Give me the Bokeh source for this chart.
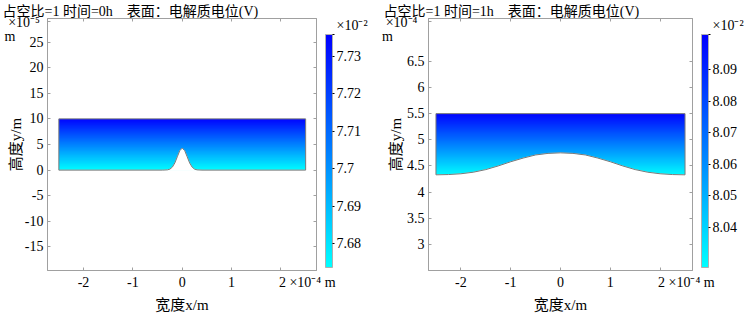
import numpy as np
from bokeh.plotting import figure
from bokeh.layouts import row
from bokeh.models import (LinearAxis, FixedTicker, ColorBar, LinearColorMapper,
                          Range1d, Title, AllLabels)
from bokeh.embed import file_html
from bokeh.resources import INLINE

# ---------------- data ----------------
titles = ["占空比=1 时间=0h\u00a0\u00a0\u00a0\u00a0表面：电解质电位(V)",
          "占空比=1 时间=1h\u00a0\u00a0\u00a0\u00a0表面：电解质电位(V)"]
x_ticks = [-2, -1, 0, 1, 2]
x_labels = ["-2", "-1", "0", "1", "2"]
x_unit = "×10⁻⁴ m"
cb_unit = "×10⁻²"

# left panel: x in 1e-4 m, y in 1e-5 m, potential in 1e-2 V
left_x_range = [-2.73, 2.72]
left_y_range = [-19.6, 29.6]
left_y_ticks = [-15, -10, -5, 0, 5, 10, 15, 20, 25]
left_y_labels = ["-15", "-10", "-5", "0", "5", "10", "15", "20", "25"]
left_y_unit = "×10⁻⁵"
left_surface_x = [-2.5, -0.4, -0.3, -0.25, -0.2, -0.15, -0.1, -0.05, 0.0,
                  0.05, 0.1, 0.15, 0.2, 0.25, 0.3, 0.4, 2.5]
left_surface_y = [0.0, 0.0, 0.05, 0.19, 0.59, 1.4, 2.6, 3.8, 4.3,
                  3.8, 2.6, 1.4, 0.59, 0.19, 0.05, 0.0, 0.0]
left_top = 10.0
left_pot_y = [0.0, 10.0]
left_pot_v = [7.674, 7.735]
left_cb_range = [7.6736, 7.7359]
left_cb_ticks = [7.68, 7.69, 7.70, 7.71, 7.72, 7.73]
left_cb_labels = ["7.68", "7.69", "7.7", "7.71", "7.72", "7.73"]

# right panel: x in 1e-4 m, y in 1e-4 m, potential in 1e-2 V
right_x_range = [-2.65, 2.65]
right_y_range = [2.5, 7.32]
right_y_ticks = [3, 3.5, 4, 4.5, 5, 5.5, 6, 6.5]
right_y_labels = ["3", "3.5", "4", "4.5", "5", "5.5", "6", "6.5"]
right_y_unit = "×10⁻⁴"
right_surface_x = [-2.5, -2.25, -2.0, -1.75, -1.5, -1.25, -1.0, -0.75, -0.5, -0.25, 0.0,
                   0.25, 0.5, 0.75, 1.0, 1.25, 1.5, 1.75, 2.0, 2.25, 2.5]
right_surface_y = [4.33, 4.335, 4.35, 4.38, 4.43, 4.50, 4.58, 4.65, 4.71, 4.74, 4.75,
                   4.74, 4.71, 4.65, 4.58, 4.50, 4.43, 4.38, 4.35, 4.335, 4.33]
right_top = 5.5
right_pot_y = [4.33, 5.5]
right_pot_v = [8.029, 8.100]
right_cb_range = [8.0273, 8.1011]
right_cb_ticks = [8.04, 8.05, 8.06, 8.07, 8.08, 8.09]
right_cb_labels = ["8.04", "8.05", "8.06", "8.07", "8.08", "8.09"]

# ---------------- style ----------------
FONT = "'Liberation Serif', 'Noto Sans CJK SC', serif"
GRAY = "#a0a0a0"
NB = "\u00a0"
palette = ["#%02x%02x%02x" % (0, int(round(255 * (1 - i / 255))), 255) for i in range(256)]


def base_axis(ax):
    ax.major_tick_in = 3
    ax.major_tick_out = 0
    ax.minor_tick_line_color = None
    ax.axis_line_color = GRAY
    ax.major_tick_line_color = GRAY
    ax.major_label_text_font = FONT
    ax.major_label_text_color = "black"
    ax.major_label_text_font_size = "14px"
    ax.axis_label_text_font = FONT
    ax.axis_label_text_font_style = "normal"
    ax.axis_label_text_font_size = "15px"
    ax.axis_label_text_color = "black"


def hidden_axis(ax, ticks):
    base_axis(ax)
    ax.ticker = FixedTicker(ticks=ticks)
    ax.major_label_overrides = {t: "" for t in ticks}
    ax.major_label_text_color = None
    ax.major_label_standoff = 0


def make_panel(width, border_left, xr, yr, y_ticks, y_labels, y_unit, unit_pad,
               m_pad, label_standoff, sx, sy, top, pot_y, pot_v, cb_range,
               cb_ticks, cb_labels, title, title_dx):
    p = figure(width=width, height=315, x_range=Range1d(*xr), y_range=Range1d(*yr),
               output_backend="svg", toolbar_location=None,
               min_border_left=border_left, min_border_top=18, min_border_right=0,
               min_border_bottom=44, x_axis_label="宽度x/m", y_axis_label="高度y/m")
    p.grid.visible = False
    p.outline_line_color = GRAY
    p.background_fill_color = "white"
    p.border_fill_color = "white"

    # bottom axis, with the unit text following the last tick label
    xa = p.xaxis[0]
    base_axis(xa)
    xa.ticker = FixedTicker(ticks=x_ticks)
    xover = {t: l for t, l in zip(x_ticks, x_labels)}
    xover[x_ticks[-1]] = NB * 15 + x_labels[-1] + NB + x_unit
    xa.major_label_overrides = xover
    xa.major_label_standoff = 4
    xa.axis_label_standoff = 4

    # left axis, with the unit text placed at the top edge of the frame
    ya = p.yaxis[0]
    base_axis(ya)
    unit_tick = yr[1] - 0.01 * (yr[1] - yr[0])
    ya.ticker = FixedTicker(ticks=list(y_ticks) + [unit_tick])
    yover = {t: l for t, l in zip(y_ticks, y_labels)}
    yover[unit_tick] = NB + "\n" + y_unit + NB * unit_pad + "\n" + "m" + NB * m_pad
    ya.major_label_overrides = yover
    ya.major_label_text_line_height = 0.95
    ya.major_label_standoff = 4
    ya.axis_label_standoff = label_standoff

    top_ax = LinearAxis()
    hidden_axis(top_ax, x_ticks)
    p.add_layout(top_ax, "above")
    right_ax = LinearAxis()
    hidden_axis(right_ax, y_ticks)
    p.add_layout(right_ax, "right")

    mapper = LinearColorMapper(palette=palette, low=cb_range[0], high=cb_range[1])
    x0, x1 = min(sx), max(sx)
    y0 = min(sy)
    rows = np.linspace(y0, top, 240)
    vals = np.interp(rows, pot_y, pot_v)
    img = np.repeat(vals[:, None], 2, axis=1)
    p.image(image=[img], x=x0, y=y0, dw=x1 - x0, dh=top - y0, color_mapper=mapper)
    # electrode region under the surface curve stays blank
    pad = 0.01 * (top - y0)
    p.patch(list(sx) + [x1, x0], list(sy) + [y0 - pad, y0 - pad],
            fill_color="white", line_color="white", line_width=0.5)
    # electrolyte domain outline
    p.patch(list(sx) + [x1, x0], list(sy) + [top, top], fill_alpha=0,
            line_color="#7a7a7a", line_width=1)

    # colour bar; its multiplier sits at the top end of the scale
    unit_val = cb_range[1] - 1e-6
    cb_over = {t: l for t, l in zip(cb_ticks, cb_labels)}
    cb_over[unit_val] = cb_unit + "\n" + NB
    cb = ColorBar(color_mapper=mapper, ticker=FixedTicker(ticks=list(cb_ticks) + [unit_val]),
                  major_label_overrides=cb_over, major_label_policy=AllLabels(),
                  width=7, height=233, padding=0, margin=0, location=(9, 3),
                  label_standoff=2, major_label_text_font=FONT,
                  major_label_text_font_size="14px", major_label_text_color="black",
                  major_tick_in=0, major_tick_out=2, major_tick_line_color="black",
                  minor_tick_line_color=None, bar_line_color="#b0b0b0",
                  background_fill_alpha=0, border_line_color=None)
    p.add_layout(cb, "right")

    # panel title
    p.add_layout(Title(text=title, align="left", offset=title_dx - border_left,
                       standoff=0, text_font=FONT, text_font_size="14px",
                       text_font_style="normal", text_color="black",
                       vertical_align="bottom"), "above")
    return p


pl = make_panel(370, 47, left_x_range, left_y_range, left_y_ticks, left_y_labels,
                left_y_unit, 1, 8, -22, left_surface_x, left_surface_y, left_top,
                left_pot_y, left_pot_v, left_cb_range, left_cb_ticks, left_cb_labels,
                titles[0], 2)
pr = make_panel(376, 58, right_x_range, right_y_range, right_y_ticks, right_y_labels,
                right_y_unit, 2, 9, -25, right_surface_x, right_surface_y, right_top,
                right_pot_y, right_pot_v, right_cb_range, right_cb_ticks, right_cb_labels,
                titles[1], 13)

layout = row(pl, pr, spacing=0)
open("out.html", "w").write(file_html(layout, INLINE))
